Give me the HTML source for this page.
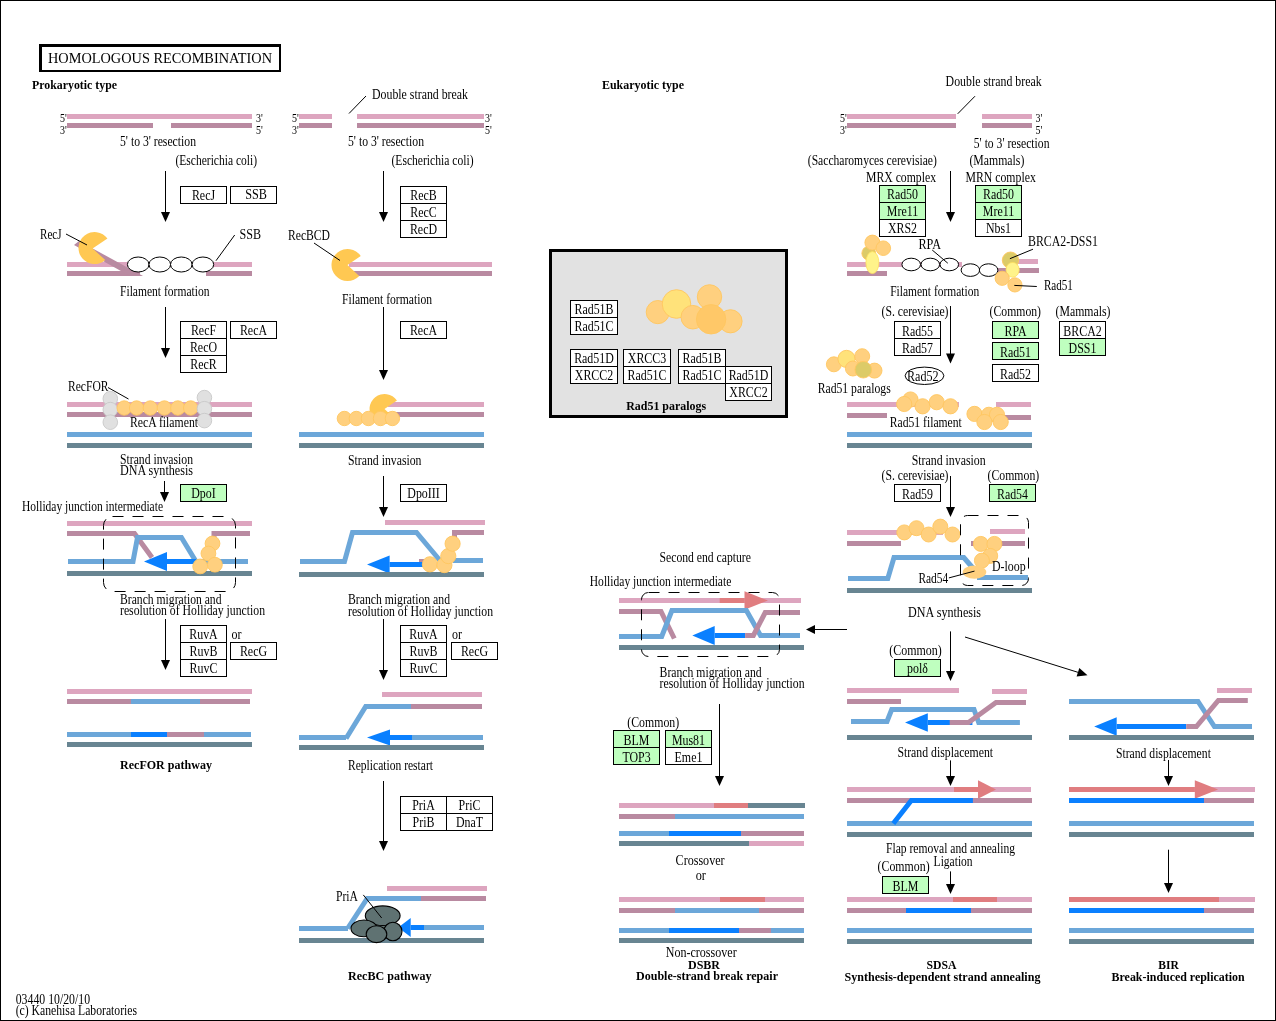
<!DOCTYPE html>
<html><head><meta charset="utf-8"><style>
html,body{margin:0;padding:0;background:#fff;}
svg{display:block;}
text{font-family:"Liberation Serif",serif;fill:#000;}
</style></head><body>
<svg style="will-change:transform" width="1276" height="1021" viewBox="0 0 1276 1021">
<rect x="0.5" y="0.5" width="1275" height="1020" fill="#fff" stroke="#000" stroke-width="1"/>
<rect x="39" y="44" width="242" height="28" fill="#000"/>
<rect x="42" y="47" width="237" height="23" fill="#fff"/>
<text x="48" y="63" font-size="14.5" textLength="224" lengthAdjust="spacingAndGlyphs">HOMOLOGOUS RECOMBINATION</text>
<text x="32" y="89" font-size="13" font-weight="bold" textLength="85" lengthAdjust="spacingAndGlyphs">Prokaryotic type</text>
<text x="602" y="89" font-size="13" font-weight="bold" textLength="82" lengthAdjust="spacingAndGlyphs">Eukaryotic type</text>
<text x="60" y="122" font-size="12" textLength="6.8" lengthAdjust="spacingAndGlyphs">5'</text>
<text x="60" y="134" font-size="12" textLength="6.8" lengthAdjust="spacingAndGlyphs">3'</text>
<rect x="67" y="114.0" width="185" height="5" fill="#DDA5BF"/>
<rect x="67" y="123.0" width="86" height="5" fill="#B98AA1"/>
<rect x="171" y="123.0" width="81" height="5" fill="#B98AA1"/>
<text x="256" y="122" font-size="12" textLength="6.8" lengthAdjust="spacingAndGlyphs">3'</text>
<text x="256" y="134" font-size="12" textLength="6.8" lengthAdjust="spacingAndGlyphs">5'</text>
<text x="120" y="146" font-size="14" textLength="76" lengthAdjust="spacingAndGlyphs">5' to 3' resection</text>
<text x="175.5" y="165" font-size="14" textLength="81.5" lengthAdjust="spacingAndGlyphs">(Escherichia coli)</text>
<line x1="165.5" y1="171" x2="165.5" y2="213" stroke="#000" stroke-width="1"/>
<polygon points="161.0,212 170.0,212 165.5,222" fill="#000"/>
<rect x="180.5" y="186.5" width="46" height="17" fill="#fff" stroke="#000" stroke-width="1"/>
<text x="203.5" y="200.1" font-size="14" text-anchor="middle" textLength="23.1" lengthAdjust="spacingAndGlyphs">RecJ</text>
<rect x="230.5" y="186.5" width="46" height="17" fill="#fff" stroke="#000" stroke-width="1"/>
<text x="245.3" y="199" font-size="14" textLength="21.7" lengthAdjust="spacingAndGlyphs">SSB</text>
<text x="40" y="239" font-size="14" textLength="21.5" lengthAdjust="spacingAndGlyphs">RecJ</text>
<text x="239.5" y="239" font-size="14" textLength="21.5" lengthAdjust="spacingAndGlyphs">SSB</text>
<rect x="67" y="262.0" width="185" height="5" fill="#DDA5BF"/>
<rect x="67" y="271.0" width="73" height="5" fill="#B98AA1"/>
<rect x="206" y="271.0" width="46" height="5" fill="#B98AA1"/>
<polygon points="74,245 79,241 143,276 130,276" fill="#B98AA1"/>
<path d="M92.6,248.5 L105.21,259.89 A16,16 0 1 1 107.44,238.60 Z" fill="#FFC852"/>
<line x1="66" y1="234" x2="87" y2="245" stroke="#000" stroke-width="1"/>
<line x1="216" y1="260.7" x2="234.7" y2="235" stroke="#000" stroke-width="1"/>
<ellipse cx="138.2" cy="264.5" rx="10.8" ry="7.5" fill="#fff" stroke="#000" stroke-width="1.0"/>
<ellipse cx="159.8" cy="264.5" rx="10.8" ry="7.5" fill="#fff" stroke="#000" stroke-width="1.0"/>
<ellipse cx="181.3" cy="264.5" rx="10.8" ry="7.5" fill="#fff" stroke="#000" stroke-width="1.0"/>
<ellipse cx="202.9" cy="264.5" rx="10.8" ry="7.5" fill="#fff" stroke="#000" stroke-width="1.0"/>
<text x="120" y="296" font-size="14" textLength="89.5" lengthAdjust="spacingAndGlyphs">Filament formation</text>
<line x1="165.5" y1="307" x2="165.5" y2="349" stroke="#000" stroke-width="1"/>
<polygon points="161.0,348 170.0,348 165.5,358" fill="#000"/>
<rect x="180.5" y="321.5" width="46" height="17" fill="#fff" stroke="#000" stroke-width="1"/>
<text x="203.5" y="335.1" font-size="14" text-anchor="middle" textLength="25.1" lengthAdjust="spacingAndGlyphs">RecF</text>
<rect x="180.5" y="338.5" width="46" height="17" fill="#fff" stroke="#000" stroke-width="1"/>
<text x="203.5" y="352.1" font-size="14" text-anchor="middle" textLength="27.1" lengthAdjust="spacingAndGlyphs">RecO</text>
<rect x="180.5" y="355.5" width="46" height="17" fill="#fff" stroke="#000" stroke-width="1"/>
<text x="203.5" y="369.1" font-size="14" text-anchor="middle" textLength="26.4" lengthAdjust="spacingAndGlyphs">RecR</text>
<rect x="230.5" y="321.5" width="46" height="17" fill="#fff" stroke="#000" stroke-width="1"/>
<text x="253.5" y="335.1" font-size="14" text-anchor="middle" textLength="27.1" lengthAdjust="spacingAndGlyphs">RecA</text>
<text x="68" y="391" font-size="14" textLength="40.5" lengthAdjust="spacingAndGlyphs">RecFOR</text>
<line x1="108" y1="387.5" x2="128.5" y2="399" stroke="#000" stroke-width="1"/>
<rect x="67" y="402.0" width="185" height="5" fill="#DDA5BF"/>
<rect x="67" y="412.0" width="185" height="5" fill="#B98AA1"/>
<circle cx="110.3" cy="398.7" r="7.3" fill="#E0E0E0" stroke="#C8C8C8" stroke-width="0.9"/>
<circle cx="110.3" cy="409.6" r="7.3" fill="#E0E0E0" stroke="#C8C8C8" stroke-width="0.9"/>
<circle cx="110.3" cy="422.2" r="7.3" fill="#E0E0E0" stroke="#C8C8C8" stroke-width="0.9"/>
<circle cx="124.2" cy="408" r="7.2" fill="#FFD07F" stroke="#FFC660" stroke-width="0.9"/>
<circle cx="136.6" cy="408" r="7.2" fill="#FFD07F" stroke="#FFC660" stroke-width="0.9"/>
<circle cx="150.3" cy="408" r="7.2" fill="#FFD07F" stroke="#FFC660" stroke-width="0.9"/>
<circle cx="164.4" cy="408" r="7.2" fill="#FFD07F" stroke="#FFC660" stroke-width="0.9"/>
<circle cx="177.8" cy="408" r="7.2" fill="#FFD07F" stroke="#FFC660" stroke-width="0.9"/>
<circle cx="190.7" cy="408" r="7.2" fill="#FFD07F" stroke="#FFC660" stroke-width="0.9"/>
<circle cx="204.4" cy="397.6" r="7.3" fill="#E0E0E0" stroke="#C8C8C8" stroke-width="0.9"/>
<circle cx="204.4" cy="408.7" r="7.3" fill="#E0E0E0" stroke="#C8C8C8" stroke-width="0.9"/>
<circle cx="204.4" cy="420.6" r="7.3" fill="#E0E0E0" stroke="#C8C8C8" stroke-width="0.9"/>
<text x="130" y="427" font-size="14" textLength="68" lengthAdjust="spacingAndGlyphs">RecA filament</text>
<rect x="67" y="432.0" width="185" height="5" fill="#6CA7D9"/>
<rect x="67" y="443.0" width="185" height="5" fill="#688592"/>
<text x="120" y="464" font-size="14" textLength="73" lengthAdjust="spacingAndGlyphs">Strand invasion</text>
<text x="120" y="475" font-size="14" textLength="73" lengthAdjust="spacingAndGlyphs">DNA synthesis</text>
<line x1="164.5" y1="481" x2="164.5" y2="493" stroke="#000" stroke-width="1"/>
<polygon points="160.0,492 169.0,492 164.5,502" fill="#000"/>
<rect x="180.5" y="484.5" width="46" height="17" fill="#BFFFBF" stroke="#000" stroke-width="1"/>
<text x="203.5" y="498.1" font-size="14" text-anchor="middle" textLength="24.5" lengthAdjust="spacingAndGlyphs">DpoI</text>
<text x="22" y="511" font-size="14" textLength="141" lengthAdjust="spacingAndGlyphs">Holliday junction intermediate</text>
<rect x="67" y="521.0" width="185" height="5" fill="#DDA5BF"/>
<polyline points="67,533.5 134.5,533.5 152,557.5" fill="none" stroke="#B98AA1" stroke-width="5" stroke-linejoin="miter" stroke-linecap="butt"/>
<polyline points="214,541.5 214,533.5 250,533.5" fill="none" stroke="#B98AA1" stroke-width="5" stroke-linejoin="miter" stroke-linecap="butt"/>
<polyline points="68,561.5 133,561.5 137.5,537.5 181.4,537.5 196,561.5 248,561.5" fill="none" stroke="#6CA7D9" stroke-width="5" stroke-linejoin="miter" stroke-linecap="butt"/>
<rect x="167" y="559.0" width="29" height="5" fill="#0A80FF"/>
<polygon points="144,561.5 167,552.0 167,571.0" fill="#0A80FF"/>
<rect x="67" y="571.0" width="185" height="5" fill="#688592"/>
<circle cx="212.5" cy="543.5" r="7.4" fill="#FFD07F" stroke="#FFC660" stroke-width="0.9"/>
<circle cx="208.4" cy="553.5" r="7.4" fill="#FFD07F" stroke="#FFC660" stroke-width="0.9"/>
<circle cx="200.2" cy="566.4" r="7.4" fill="#FFD07F" stroke="#FFC660" stroke-width="0.9"/>
<circle cx="214.9" cy="564.7" r="7.4" fill="#FFD07F" stroke="#FFC660" stroke-width="0.9"/>
<rect x="103.5" y="516.5" width="132" height="75" rx="9" ry="9" fill="none" stroke="#000" stroke-width="1" stroke-dasharray="11,9"/>
<text x="120" y="603.5" font-size="14" textLength="101.5" lengthAdjust="spacingAndGlyphs">Branch migration and</text>
<text x="120" y="615" font-size="14" textLength="145" lengthAdjust="spacingAndGlyphs">resolution of Holliday junction</text>
<line x1="165.5" y1="619" x2="165.5" y2="661" stroke="#000" stroke-width="1"/>
<polygon points="161.0,660 170.0,660 165.5,670" fill="#000"/>
<rect x="180.5" y="625.5" width="46" height="17" fill="#fff" stroke="#000" stroke-width="1"/>
<text x="203.5" y="639.1" font-size="14" text-anchor="middle" textLength="28.4" lengthAdjust="spacingAndGlyphs">RuvA</text>
<rect x="180.5" y="642.5" width="46" height="17" fill="#fff" stroke="#000" stroke-width="1"/>
<text x="203.5" y="656.1" font-size="14" text-anchor="middle" textLength="27.8" lengthAdjust="spacingAndGlyphs">RuvB</text>
<rect x="180.5" y="659.5" width="46" height="17" fill="#fff" stroke="#000" stroke-width="1"/>
<text x="203.5" y="673.1" font-size="14" text-anchor="middle" textLength="27.8" lengthAdjust="spacingAndGlyphs">RuvC</text>
<text x="231.5" y="638.5" font-size="14" textLength="10" lengthAdjust="spacingAndGlyphs">or</text>
<rect x="230.5" y="642.5" width="46" height="17" fill="#fff" stroke="#000" stroke-width="1"/>
<text x="253.5" y="656.1" font-size="14" text-anchor="middle" textLength="27.1" lengthAdjust="spacingAndGlyphs">RecG</text>
<rect x="67" y="689.0" width="185" height="5" fill="#DDA5BF"/>
<rect x="67" y="699.0" width="64" height="5" fill="#B98AA1"/>
<rect x="131" y="699.0" width="69" height="5" fill="#6CA7D9"/>
<rect x="200" y="699.0" width="50" height="5" fill="#B98AA1"/>
<rect x="67" y="732.0" width="64" height="5" fill="#6CA7D9"/>
<rect x="131" y="732.0" width="36" height="5" fill="#0A80FF"/>
<rect x="167" y="732.0" width="37" height="5" fill="#B98AA1"/>
<rect x="204" y="732.0" width="47" height="5" fill="#6CA7D9"/>
<rect x="67" y="742.0" width="185" height="5" fill="#688592"/>
<text x="120" y="769" font-size="13" font-weight="bold" textLength="92" lengthAdjust="spacingAndGlyphs">RecFOR pathway</text>
<text x="372" y="99" font-size="14" textLength="96" lengthAdjust="spacingAndGlyphs">Double strand break</text>
<line x1="366" y1="96" x2="349" y2="113.5" stroke="#000" stroke-width="1"/>
<text x="292" y="122" font-size="12" textLength="6.8" lengthAdjust="spacingAndGlyphs">5'</text>
<text x="292" y="134" font-size="12" textLength="6.8" lengthAdjust="spacingAndGlyphs">3'</text>
<rect x="299" y="114.0" width="33" height="5" fill="#DDA5BF"/>
<rect x="299" y="123.0" width="33" height="5" fill="#B98AA1"/>
<rect x="357" y="114.0" width="127" height="5" fill="#DDA5BF"/>
<rect x="357" y="123.0" width="127" height="5" fill="#B98AA1"/>
<text x="485" y="122" font-size="12" textLength="6.8" lengthAdjust="spacingAndGlyphs">3'</text>
<text x="485" y="134" font-size="12" textLength="6.8" lengthAdjust="spacingAndGlyphs">5'</text>
<text x="348" y="145.5" font-size="14" textLength="76" lengthAdjust="spacingAndGlyphs">5' to 3' resection</text>
<text x="391.5" y="165" font-size="14" textLength="82" lengthAdjust="spacingAndGlyphs">(Escherichia coli)</text>
<line x1="383.5" y1="171" x2="383.5" y2="213" stroke="#000" stroke-width="1"/>
<polygon points="379.0,212 388.0,212 383.5,222" fill="#000"/>
<rect x="400.5" y="186.5" width="46" height="17" fill="#fff" stroke="#000" stroke-width="1"/>
<text x="423.5" y="200.1" font-size="14" text-anchor="middle" textLength="26.4" lengthAdjust="spacingAndGlyphs">RecB</text>
<rect x="400.5" y="203.5" width="46" height="17" fill="#fff" stroke="#000" stroke-width="1"/>
<text x="423.5" y="217.1" font-size="14" text-anchor="middle" textLength="26.4" lengthAdjust="spacingAndGlyphs">RecC</text>
<rect x="400.5" y="220.5" width="46" height="17" fill="#fff" stroke="#000" stroke-width="1"/>
<text x="423.5" y="234.1" font-size="14" text-anchor="middle" textLength="27.1" lengthAdjust="spacingAndGlyphs">RecD</text>
<text x="288" y="240" font-size="14" textLength="42" lengthAdjust="spacingAndGlyphs">RecBCD</text>
<rect x="349" y="262.0" width="143" height="5" fill="#DDA5BF"/>
<rect x="353" y="271.0" width="139" height="5" fill="#B98AA1"/>
<path d="M347.5,265 L359.20,275.91 A16,16 0 1 1 360.76,256.05 Z" fill="#FFC852"/>
<line x1="314" y1="243" x2="340" y2="260.5" stroke="#000" stroke-width="1"/>
<text x="342" y="303.5" font-size="14" textLength="90" lengthAdjust="spacingAndGlyphs">Filament formation</text>
<line x1="383.5" y1="307" x2="383.5" y2="371" stroke="#000" stroke-width="1"/>
<polygon points="379.0,370 388.0,370 383.5,380" fill="#000"/>
<rect x="400.5" y="321.5" width="46" height="17" fill="#fff" stroke="#000" stroke-width="1"/>
<text x="423.5" y="335.1" font-size="14" text-anchor="middle" textLength="27.1" lengthAdjust="spacingAndGlyphs">RecA</text>
<rect x="388" y="402.0" width="96" height="5" fill="#DDA5BF"/>
<rect x="386" y="412.0" width="98" height="5" fill="#B98AA1"/>
<path d="M384.5,409 L395.47,419.23 A15,15 0 1 1 396.94,400.61 Z" fill="#FFC852"/>
<circle cx="344.4" cy="418.5" r="7.2" fill="#FFD07F" stroke="#FFC660" stroke-width="0.9"/>
<circle cx="356.3" cy="418.5" r="7.2" fill="#FFD07F" stroke="#FFC660" stroke-width="0.9"/>
<circle cx="368.4" cy="418.5" r="7.2" fill="#FFD07F" stroke="#FFC660" stroke-width="0.9"/>
<circle cx="380.5" cy="418.5" r="7.2" fill="#FFD07F" stroke="#FFC660" stroke-width="0.9"/>
<circle cx="392.4" cy="418.5" r="7.2" fill="#FFD07F" stroke="#FFC660" stroke-width="0.9"/>
<rect x="299" y="432.0" width="185" height="5" fill="#6CA7D9"/>
<rect x="299" y="443.0" width="185" height="5" fill="#688592"/>
<text x="348" y="464.5" font-size="14" textLength="73.5" lengthAdjust="spacingAndGlyphs">Strand invasion</text>
<line x1="383.5" y1="476" x2="383.5" y2="508" stroke="#000" stroke-width="1"/>
<polygon points="379.0,507 388.0,507 383.5,517" fill="#000"/>
<rect x="400.5" y="484.5" width="46" height="17" fill="#fff" stroke="#000" stroke-width="1"/>
<text x="423.5" y="498.1" font-size="14" text-anchor="middle" textLength="32.4" lengthAdjust="spacingAndGlyphs">DpoIII</text>
<rect x="385" y="520.0" width="100" height="5" fill="#DDA5BF"/>
<polyline points="300,561.5 344.5,561.5 352.5,532.5 416.5,532.5 440,560.5" fill="none" stroke="#6CA7D9" stroke-width="5" stroke-linejoin="miter" stroke-linecap="butt"/>
<polyline points="453,560.5 483,560.5" fill="none" stroke="#6CA7D9" stroke-width="5" stroke-linejoin="miter" stroke-linecap="butt"/>
<polyline points="454.5,538.5 454.5,532.5 484,532.5" fill="none" stroke="#B98AA1" stroke-width="5" stroke-linejoin="miter" stroke-linecap="butt"/>
<rect x="419" y="559.0" width="5" height="5" fill="#B98AA1"/>
<rect x="389.6" y="562.0" width="33.69999999999999" height="5" fill="#0A80FF"/>
<polygon points="367,564.5 389.6,555.5 389.6,573.5" fill="#0A80FF"/>
<rect x="299" y="572.0" width="185" height="5" fill="#688592"/>
<circle cx="429.9" cy="564.3" r="7.6" fill="#FFD07F" stroke="#FFC660" stroke-width="0.9"/>
<circle cx="444.4" cy="565.1" r="7.6" fill="#FFD07F" stroke="#FFC660" stroke-width="0.9"/>
<circle cx="448.3" cy="556.1" r="7.6" fill="#FFD07F" stroke="#FFC660" stroke-width="0.9"/>
<circle cx="452.6" cy="543.7" r="7.6" fill="#FFD07F" stroke="#FFC660" stroke-width="0.9"/>
<text x="348" y="604" font-size="14" textLength="102" lengthAdjust="spacingAndGlyphs">Branch migration and</text>
<text x="348" y="615.5" font-size="14" textLength="145" lengthAdjust="spacingAndGlyphs">resolution of Holliday junction</text>
<line x1="383.5" y1="619" x2="383.5" y2="671" stroke="#000" stroke-width="1"/>
<polygon points="379.0,670 388.0,670 383.5,680" fill="#000"/>
<rect x="400.5" y="625.5" width="46" height="17" fill="#fff" stroke="#000" stroke-width="1"/>
<text x="423.5" y="639.1" font-size="14" text-anchor="middle" textLength="28.4" lengthAdjust="spacingAndGlyphs">RuvA</text>
<rect x="400.5" y="642.5" width="46" height="17" fill="#fff" stroke="#000" stroke-width="1"/>
<text x="423.5" y="656.1" font-size="14" text-anchor="middle" textLength="27.8" lengthAdjust="spacingAndGlyphs">RuvB</text>
<rect x="400.5" y="659.5" width="46" height="17" fill="#fff" stroke="#000" stroke-width="1"/>
<text x="423.5" y="673.1" font-size="14" text-anchor="middle" textLength="27.8" lengthAdjust="spacingAndGlyphs">RuvC</text>
<text x="452" y="639" font-size="14" textLength="10" lengthAdjust="spacingAndGlyphs">or</text>
<rect x="451.5" y="642.5" width="46" height="17" fill="#fff" stroke="#000" stroke-width="1"/>
<text x="474.5" y="656.1" font-size="14" text-anchor="middle" textLength="27.1" lengthAdjust="spacingAndGlyphs">RecG</text>
<rect x="382" y="692.0" width="100" height="5" fill="#DDA5BF"/>
<polyline points="346,738.5 365.7,706.5 411,706.5" fill="none" stroke="#6CA7D9" stroke-width="5" stroke-linejoin="miter" stroke-linecap="butt"/>
<rect x="411" y="704.0" width="71" height="5" fill="#B98AA1"/>
<rect x="299" y="735.0" width="47" height="5" fill="#6CA7D9"/>
<rect x="390" y="735.0" width="22.19999999999999" height="5" fill="#0A80FF"/>
<polygon points="367,737.5 390,729.5 390,745.5" fill="#0A80FF"/>
<rect x="412" y="735.0" width="71" height="5" fill="#6CA7D9"/>
<rect x="299" y="745.0" width="185" height="5" fill="#688592"/>
<text x="348" y="769.5" font-size="14" textLength="85" lengthAdjust="spacingAndGlyphs">Replication restart</text>
<line x1="383.5" y1="781" x2="383.5" y2="842" stroke="#000" stroke-width="1"/>
<polygon points="379.0,841 388.0,841 383.5,851" fill="#000"/>
<rect x="400.5" y="796.5" width="92" height="34" fill="#fff" stroke="#000" stroke-width="1"/>
<line x1="446.5" y1="796" x2="446.5" y2="830" stroke="#000" stroke-width="1"/>
<line x1="400" y1="813.5" x2="492" y2="813.5" stroke="#000" stroke-width="1"/>
<text x="423.5" y="810.1" font-size="14" text-anchor="middle" textLength="22.5" lengthAdjust="spacingAndGlyphs">PriA</text>
<text x="469.5" y="810.1" font-size="14" text-anchor="middle" textLength="21.8" lengthAdjust="spacingAndGlyphs">PriC</text>
<text x="423.5" y="827.1" font-size="14" text-anchor="middle" textLength="21.8" lengthAdjust="spacingAndGlyphs">PriB</text>
<text x="469.5" y="827.1" font-size="14" text-anchor="middle" textLength="27.1" lengthAdjust="spacingAndGlyphs">DnaT</text>
<rect x="387" y="886.0" width="100" height="5" fill="#DDA5BF"/>
<polyline points="347.6,928.5 367.2,898.5 421.3,898.5" fill="none" stroke="#6CA7D9" stroke-width="5" stroke-linejoin="miter" stroke-linecap="butt"/>
<rect x="421" y="896.0" width="65" height="5" fill="#B98AA1"/>
<rect x="299" y="926.0" width="49" height="5" fill="#6CA7D9"/>
<rect x="299" y="938.0" width="185" height="5" fill="#688592"/>
<rect x="410.7" y="925.0" width="13.300000000000011" height="5" fill="#0A80FF"/>
<polygon points="398.2,927.5 410.7,918.1 410.7,936.9" fill="#0A80FF"/>
<rect x="424" y="925.0" width="60" height="5" fill="#6CA7D9"/>
<ellipse cx="383" cy="928" rx="10" ry="7" fill="#5F7272" stroke="none" stroke-width="0"/>
<ellipse cx="382.7" cy="915.7" rx="17.4" ry="9.8" fill="#5F7272" stroke="#000" stroke-width="1.1"/>
<ellipse cx="364" cy="928.4" rx="13" ry="8.4" fill="#5F7272" stroke="#000" stroke-width="1.1"/>
<ellipse cx="392.9" cy="931.5" rx="9.1" ry="9.2" fill="#5F7272" stroke="#000" stroke-width="1.1"/>
<ellipse cx="376.5" cy="934.2" rx="10.3" ry="8.4" fill="#5F7272" stroke="#000" stroke-width="1.1"/>
<line x1="363.3" y1="894.9" x2="381.7" y2="918" stroke="#000" stroke-width="1"/>
<text x="336" y="901" font-size="14" textLength="22" lengthAdjust="spacingAndGlyphs">PriA</text>
<text x="348" y="980" font-size="13" font-weight="bold" textLength="83.5" lengthAdjust="spacingAndGlyphs">RecBC pathway</text>
<text x="945.6" y="85.5" font-size="14" textLength="96" lengthAdjust="spacingAndGlyphs">Double strand break</text>
<line x1="975" y1="96.2" x2="957.7" y2="113.8" stroke="#000" stroke-width="1"/>
<text x="840" y="122" font-size="12" textLength="6.8" lengthAdjust="spacingAndGlyphs">5'</text>
<text x="840" y="134" font-size="12" textLength="6.8" lengthAdjust="spacingAndGlyphs">3'</text>
<rect x="847" y="114.0" width="109" height="5" fill="#DDA5BF"/>
<rect x="847" y="123.0" width="109" height="5" fill="#B98AA1"/>
<rect x="982" y="114.0" width="50" height="5" fill="#DDA5BF"/>
<rect x="982" y="123.0" width="50" height="5" fill="#B98AA1"/>
<text x="1035.5" y="122" font-size="12" textLength="6.8" lengthAdjust="spacingAndGlyphs">3'</text>
<text x="1035.5" y="134" font-size="12" textLength="6.8" lengthAdjust="spacingAndGlyphs">5'</text>
<text x="973.8" y="147.5" font-size="14" textLength="75.7" lengthAdjust="spacingAndGlyphs">5' to 3' resection</text>
<text x="807.8" y="165" font-size="14" textLength="129" lengthAdjust="spacingAndGlyphs">(Saccharomyces cerevisiae)</text>
<text x="969.4" y="165" font-size="14" textLength="55" lengthAdjust="spacingAndGlyphs">(Mammals)</text>
<text x="866" y="181.5" font-size="14" textLength="70" lengthAdjust="spacingAndGlyphs">MRX complex</text>
<text x="965.5" y="181.5" font-size="14" textLength="70.3" lengthAdjust="spacingAndGlyphs">MRN complex</text>
<line x1="950.5" y1="171" x2="950.5" y2="213" stroke="#000" stroke-width="1"/>
<polygon points="946.0,212 955.0,212 950.5,222" fill="#000"/>
<rect x="879.5" y="185.5" width="46" height="17" fill="#BFFFBF" stroke="#000" stroke-width="1"/>
<text x="902.5" y="199.1" font-size="14" text-anchor="middle" textLength="31.1" lengthAdjust="spacingAndGlyphs">Rad50</text>
<rect x="879.5" y="202.5" width="46" height="17" fill="#BFFFBF" stroke="#000" stroke-width="1"/>
<text x="902.5" y="216.1" font-size="14" text-anchor="middle" textLength="31.3" lengthAdjust="spacingAndGlyphs">Mre11</text>
<rect x="879.5" y="219.5" width="46" height="17" fill="#fff" stroke="#000" stroke-width="1"/>
<text x="902.5" y="233.1" font-size="14" text-anchor="middle" textLength="29.1" lengthAdjust="spacingAndGlyphs">XRS2</text>
<rect x="975.5" y="185.5" width="46" height="17" fill="#BFFFBF" stroke="#000" stroke-width="1"/>
<text x="998.5" y="199.1" font-size="14" text-anchor="middle" textLength="31.1" lengthAdjust="spacingAndGlyphs">Rad50</text>
<rect x="975.5" y="202.5" width="46" height="17" fill="#BFFFBF" stroke="#000" stroke-width="1"/>
<text x="998.5" y="216.1" font-size="14" text-anchor="middle" textLength="31.3" lengthAdjust="spacingAndGlyphs">Mre11</text>
<rect x="975.5" y="219.5" width="46" height="17" fill="#fff" stroke="#000" stroke-width="1"/>
<text x="998.5" y="233.1" font-size="14" text-anchor="middle" textLength="25.1" lengthAdjust="spacingAndGlyphs">Nbs1</text>
<rect x="847" y="262.0" width="115" height="5" fill="#DDA5BF"/>
<rect x="847" y="271.0" width="40" height="5" fill="#B98AA1"/>
<rect x="1018" y="259.0" width="20" height="5" fill="#DDA5BF"/>
<rect x="998" y="268.0" width="41" height="5" fill="#B98AA1"/>
<ellipse cx="911.2" cy="264.5" rx="9.3" ry="6.3" fill="#fff" stroke="#000" stroke-width="1.0"/>
<ellipse cx="930.3" cy="264.5" rx="9.3" ry="6.3" fill="#fff" stroke="#000" stroke-width="1.0"/>
<ellipse cx="949.3" cy="264.5" rx="9.3" ry="6.3" fill="#fff" stroke="#000" stroke-width="1.0"/>
<ellipse cx="970.4" cy="270.1" rx="9.3" ry="6.3" fill="#fff" stroke="#000" stroke-width="1.0"/>
<ellipse cx="988.6" cy="270.1" rx="9.3" ry="6.3" fill="#fff" stroke="#000" stroke-width="1.0"/>
<circle cx="868.8" cy="253.2" r="6.9" fill="#DCCB68" stroke="#FFC660" stroke-width="0.9"/>
<circle cx="872.4" cy="242.6" r="7.5" fill="#FFD07F" stroke="#FFC660" stroke-width="0.9"/>
<circle cx="883.3" cy="248.2" r="7.3" fill="#FFD07F" stroke="#FFC660" stroke-width="0.9"/>
<ellipse cx="872.4" cy="262.6" rx="6.5" ry="11" fill="#FFF38A" stroke="#FFE060" stroke-width="0.8"/>
<circle cx="1010.5" cy="260.2" r="8.2" fill="#DCCB68" stroke="#FFC660" stroke-width="0.9"/>
<ellipse cx="1012.6" cy="269.8" rx="6.6" ry="7.4" fill="#FFF38A" stroke="#FFE060" stroke-width="0.8"/>
<circle cx="1002.2" cy="278.3" r="7.1" fill="#FFD07F" stroke="#FFC660" stroke-width="0.9"/>
<circle cx="1014.9" cy="284.9" r="7.1" fill="#FFD07F" stroke="#FFC660" stroke-width="0.9"/>
<text x="918.4" y="248.8" font-size="14" textLength="22.6" lengthAdjust="spacingAndGlyphs">RPA</text>
<line x1="932.2" y1="250" x2="947.8" y2="263.2" stroke="#000" stroke-width="1"/>
<text x="1028" y="246" font-size="14" textLength="70" lengthAdjust="spacingAndGlyphs">BRCA2-DSS1</text>
<line x1="1033" y1="249.2" x2="1009.9" y2="258.7" stroke="#000" stroke-width="1"/>
<text x="1043.9" y="290" font-size="14" textLength="29" lengthAdjust="spacingAndGlyphs">Rad51</text>
<line x1="1036.8" y1="286.5" x2="1014.3" y2="285.4" stroke="#000" stroke-width="1"/>
<text x="890.2" y="295.5" font-size="14" textLength="89" lengthAdjust="spacingAndGlyphs">Filament formation</text>
<text x="881.5" y="316" font-size="14" textLength="67" lengthAdjust="spacingAndGlyphs">(S. cerevisiae)</text>
<line x1="950.5" y1="306" x2="950.5" y2="354.4" stroke="#000" stroke-width="1"/>
<polygon points="946.0,353.4 955.0,353.4 950.5,363.4" fill="#000"/>
<rect x="894.5" y="321.5" width="46" height="17" fill="#fff" stroke="#000" stroke-width="1"/>
<text x="917.5" y="335.6" font-size="14" text-anchor="middle" textLength="31.1" lengthAdjust="spacingAndGlyphs">Rad55</text>
<rect x="894.5" y="338.5" width="46" height="17" fill="#fff" stroke="#000" stroke-width="1"/>
<text x="917.5" y="352.6" font-size="14" text-anchor="middle" textLength="31.1" lengthAdjust="spacingAndGlyphs">Rad57</text>
<text x="989.6" y="316" font-size="14" textLength="51.4" lengthAdjust="spacingAndGlyphs">(Common)</text>
<rect x="992.5" y="321.5" width="46" height="17" fill="#BFFFBF" stroke="#000" stroke-width="1"/>
<text x="1015.5" y="335.6" font-size="14" text-anchor="middle" textLength="22.1" lengthAdjust="spacingAndGlyphs">RPA</text>
<rect x="992.5" y="342.5" width="46" height="17" fill="#BFFFBF" stroke="#000" stroke-width="1"/>
<text x="1015.5" y="356.6" font-size="14" text-anchor="middle" textLength="31.1" lengthAdjust="spacingAndGlyphs">Rad51</text>
<rect x="992.5" y="364.5" width="46" height="17" fill="#fff" stroke="#000" stroke-width="1"/>
<text x="1015.5" y="378.6" font-size="14" text-anchor="middle" textLength="31.1" lengthAdjust="spacingAndGlyphs">Rad52</text>
<text x="1055.5" y="316" font-size="14" textLength="55" lengthAdjust="spacingAndGlyphs">(Mammals)</text>
<rect x="1059.5" y="321.5" width="46" height="17" fill="#fff" stroke="#000" stroke-width="1"/>
<text x="1082.5" y="335.6" font-size="14" text-anchor="middle" textLength="38.4" lengthAdjust="spacingAndGlyphs">BRCA2</text>
<rect x="1059.5" y="338.5" width="46" height="17" fill="#BFFFBF" stroke="#000" stroke-width="1"/>
<text x="1082.5" y="352.6" font-size="14" text-anchor="middle" textLength="27.8" lengthAdjust="spacingAndGlyphs">DSS1</text>
<ellipse cx="924.5" cy="375.8" rx="19.4" ry="8.7" fill="#fff" stroke="#000" stroke-width="1"/>
<text x="907" y="380.5" font-size="14" textLength="31.6" lengthAdjust="spacingAndGlyphs">Rad52</text>
<circle cx="833.9" cy="364.3" r="7.5" fill="#FFD07F" stroke="#FFC660" stroke-width="0.9"/>
<circle cx="846.5" cy="358.9" r="8.6" fill="#FFE27A" stroke="#FFC660" stroke-width="0.9"/>
<circle cx="862.2" cy="356.2" r="7.5" fill="#FFD07F" stroke="#FFC660" stroke-width="0.9"/>
<circle cx="852.9" cy="368.5" r="7.5" fill="#FFD07F" stroke="#FFC660" stroke-width="0.9"/>
<circle cx="874.5" cy="370.6" r="7.5" fill="#FFD07F" stroke="#FFC660" stroke-width="0.9"/>
<circle cx="863.3" cy="369.7" r="8.3" fill="#DCCB68" stroke="#FFC660" stroke-width="0.9"/>
<text x="817.7" y="393.2" font-size="14" textLength="73" lengthAdjust="spacingAndGlyphs">Rad51 paralogs</text>
<rect x="847" y="402.0" width="112" height="5" fill="#DDA5BF"/>
<rect x="996" y="402.0" width="35" height="5" fill="#DDA5BF"/>
<rect x="847" y="413.0" width="40" height="5" fill="#B98AA1"/>
<rect x="1004" y="415.0" width="27" height="5" fill="#B98AA1"/>
<circle cx="910.5" cy="399.5" r="7.6" fill="#FFD07F" stroke="#FFC660" stroke-width="0.9"/>
<circle cx="904.2" cy="404" r="7.6" fill="#FFD07F" stroke="#FFC660" stroke-width="0.9"/>
<circle cx="922.6" cy="406.3" r="7.6" fill="#FFD07F" stroke="#FFC660" stroke-width="0.9"/>
<circle cx="936.7" cy="402.2" r="7.6" fill="#FFD07F" stroke="#FFC660" stroke-width="0.9"/>
<circle cx="950.5" cy="406.3" r="7.6" fill="#FFD07F" stroke="#FFC660" stroke-width="0.9"/>
<circle cx="974.5" cy="413.9" r="7.6" fill="#FFD07F" stroke="#FFC660" stroke-width="0.9"/>
<circle cx="988.9" cy="414.8" r="7.6" fill="#FFD07F" stroke="#FFC660" stroke-width="0.9"/>
<circle cx="997" cy="414.8" r="7.6" fill="#FFD07F" stroke="#FFC660" stroke-width="0.9"/>
<circle cx="984.4" cy="422" r="7.6" fill="#FFD07F" stroke="#FFC660" stroke-width="0.9"/>
<circle cx="1000.7" cy="422" r="7.6" fill="#FFD07F" stroke="#FFC660" stroke-width="0.9"/>
<text x="889.8" y="427" font-size="14" textLength="72" lengthAdjust="spacingAndGlyphs">Rad51 filament</text>
<rect x="847" y="432.0" width="185" height="5" fill="#6CA7D9"/>
<rect x="847" y="443.0" width="185" height="5" fill="#688592"/>
<text x="911.7" y="465" font-size="14" textLength="74" lengthAdjust="spacingAndGlyphs">Strand invasion</text>
<text x="881.5" y="480" font-size="14" textLength="67" lengthAdjust="spacingAndGlyphs">(S. cerevisiae)</text>
<line x1="950.5" y1="476" x2="950.5" y2="508" stroke="#000" stroke-width="1"/>
<polygon points="946.0,507 955.0,507 950.5,517" fill="#000"/>
<rect x="894.5" y="484.5" width="46" height="17" fill="#fff" stroke="#000" stroke-width="1"/>
<text x="917.5" y="498.6" font-size="14" text-anchor="middle" textLength="31.1" lengthAdjust="spacingAndGlyphs">Rad59</text>
<text x="987.5" y="480" font-size="14" textLength="51.7" lengthAdjust="spacingAndGlyphs">(Common)</text>
<rect x="989.5" y="484.5" width="46" height="17" fill="#BFFFBF" stroke="#000" stroke-width="1"/>
<text x="1012.5" y="498.6" font-size="14" text-anchor="middle" textLength="31.1" lengthAdjust="spacingAndGlyphs">Rad54</text>
<rect x="847" y="530.0" width="96" height="5" fill="#DDA5BF"/>
<rect x="847" y="541.0" width="54" height="5" fill="#B98AA1"/>
<circle cx="904.3" cy="532.4" r="7.5" fill="#FFD07F" stroke="#FFC660" stroke-width="0.9"/>
<circle cx="916.5" cy="528.2" r="7.5" fill="#FFD07F" stroke="#FFC660" stroke-width="0.9"/>
<circle cx="928.6" cy="534.5" r="7.5" fill="#FFD07F" stroke="#FFC660" stroke-width="0.9"/>
<circle cx="940.3" cy="526.6" r="7.5" fill="#FFD07F" stroke="#FFC660" stroke-width="0.9"/>
<circle cx="952.5" cy="534.5" r="7.5" fill="#FFD07F" stroke="#FFC660" stroke-width="0.9"/>
<rect x="990" y="529.0" width="35" height="5" fill="#DDA5BF"/>
<rect x="971" y="541.0" width="54" height="5" fill="#B98AA1"/>
<polyline points="848,578.5 887.8,578.5 894,557.5 963.8,557.5 975,570.5" fill="none" stroke="#6CA7D9" stroke-width="5" stroke-linejoin="miter" stroke-linecap="butt"/>
<rect x="977" y="575.0" width="51" height="5" fill="#6CA7D9"/>
<circle cx="980.8" cy="543.9" r="7.5" fill="#FFD07F" stroke="#FFC660" stroke-width="0.9"/>
<circle cx="994.4" cy="543.9" r="7.5" fill="#FFD07F" stroke="#FFC660" stroke-width="0.9"/>
<circle cx="990.2" cy="555.9" r="7.5" fill="#FFD07F" stroke="#FFC660" stroke-width="0.9"/>
<circle cx="981.9" cy="560.6" r="7.5" fill="#FFD07F" stroke="#FFC660" stroke-width="0.9"/>
<ellipse cx="974.5" cy="572.1" rx="11.8" ry="6.6" fill="#FFD07F" stroke="none" stroke-width="0"/>
<rect x="960.5" y="515.5" width="68" height="70" rx="7" ry="7" fill="none" stroke="#000" stroke-width="1" stroke-dasharray="11,9"/>
<text x="992" y="571" font-size="14" textLength="33.7" lengthAdjust="spacingAndGlyphs">D-loop</text>
<text x="918.4" y="582.6" font-size="14" textLength="29.8" lengthAdjust="spacingAndGlyphs">Rad54</text>
<line x1="948.9" y1="577.9" x2="974.5" y2="571.1" stroke="#000" stroke-width="1"/>
<rect x="847" y="588.0" width="185" height="5" fill="#688592"/>
<text x="908.1" y="616.5" font-size="14" textLength="73" lengthAdjust="spacingAndGlyphs">DNA synthesis</text>
<line x1="847" y1="629.5" x2="814" y2="629.5" stroke="#000" stroke-width="1"/>
<polygon points="806,629.5 815,625 815,634" fill="#000"/>
<line x1="950.5" y1="631.4" x2="950.5" y2="672" stroke="#000" stroke-width="1"/>
<polygon points="946.0,671 955.0,671 950.5,681" fill="#000"/>
<line x1="965" y1="637" x2="1077.9556162199315" y2="672.3159191936602" stroke="#000" stroke-width="1"/>
<polygon points="1087.5,675.3 1076.61,676.61 1079.30,668.02" fill="#000"/>
<text x="889.2" y="655" font-size="14" textLength="52.5" lengthAdjust="spacingAndGlyphs">(Common)</text>
<rect x="894.5" y="659.5" width="46" height="17" fill="#BFFFBF" stroke="#000" stroke-width="1"/>
<text x="917.5" y="673.1" font-size="14" text-anchor="middle" textLength="20.8" lengthAdjust="spacingAndGlyphs">polδ</text>
<rect x="847" y="688.0" width="112" height="5" fill="#DDA5BF"/>
<rect x="992" y="689.0" width="35" height="5" fill="#DDA5BF"/>
<rect x="847" y="699.0" width="54" height="5" fill="#B98AA1"/>
<polyline points="851,721.5 887,721.5 891.7,709.5 974,709.5 978.7,722.5 1019.9,722.5" fill="none" stroke="#6CA7D9" stroke-width="5" stroke-linejoin="miter" stroke-linecap="butt"/>
<rect x="927.8" y="720.0" width="44.60000000000002" height="5" fill="#0A80FF"/>
<polygon points="905,722.5 927.8,713.3 927.8,731.7" fill="#0A80FF"/>
<polyline points="949.7,722.5 968.5,722.5 996,702.5 1026,702.5" fill="none" stroke="#B98AA1" stroke-width="5" stroke-linejoin="miter" stroke-linecap="butt"/>
<rect x="847" y="735.0" width="185" height="5" fill="#688592"/>
<text x="897.4" y="757" font-size="14" textLength="95.7" lengthAdjust="spacingAndGlyphs">Strand displacement</text>
<line x1="950.5" y1="760.4" x2="950.5" y2="777" stroke="#000" stroke-width="1"/>
<polygon points="946.0,776 955.0,776 950.5,786" fill="#000"/>
<rect x="847" y="787.0" width="184" height="5" fill="#DDA5BF"/>
<rect x="954" y="787.0" width="24" height="5" fill="#E07D80"/>
<polygon points="996,789.5 978,780.3 978,798.7" fill="#E07D80"/>
<rect x="847" y="798.0" width="185" height="5" fill="#B98AA1"/>
<rect x="847" y="821.0" width="185" height="5" fill="#6CA7D9"/>
<polyline points="893.3,823.5 911.3,800.5 972.9,800.5" fill="none" stroke="#0A80FF" stroke-width="5" stroke-linejoin="miter" stroke-linecap="butt"/>
<rect x="847" y="832.0" width="185" height="5" fill="#688592"/>
<text x="886" y="853" font-size="14" textLength="129" lengthAdjust="spacingAndGlyphs">Flap removal and annealing</text>
<text x="933.6" y="866" font-size="14" textLength="39" lengthAdjust="spacingAndGlyphs">Ligation</text>
<text x="877.6" y="871" font-size="14" textLength="52" lengthAdjust="spacingAndGlyphs">(Common)</text>
<rect x="882.5" y="876.5" width="46" height="17" fill="#BFFFBF" stroke="#000" stroke-width="1"/>
<text x="905.5" y="890.6" font-size="14" text-anchor="middle" textLength="25.8" lengthAdjust="spacingAndGlyphs">BLM</text>
<line x1="950.5" y1="871.4" x2="950.5" y2="885" stroke="#000" stroke-width="1"/>
<polygon points="946.0,884 955.0,884 950.5,894" fill="#000"/>
<rect x="847" y="897.0" width="106" height="5" fill="#DDA5BF"/>
<rect x="953" y="897.0" width="44" height="5" fill="#E07D80"/>
<rect x="997" y="897.0" width="35" height="5" fill="#DDA5BF"/>
<rect x="847" y="908.0" width="59" height="5" fill="#B98AA1"/>
<rect x="906" y="908.0" width="65" height="5" fill="#0A80FF"/>
<rect x="971" y="908.0" width="61" height="5" fill="#B98AA1"/>
<rect x="847" y="928.0" width="185" height="5" fill="#6CA7D9"/>
<rect x="847" y="939.0" width="185" height="5" fill="#688592"/>
<text x="926.5" y="969" font-size="13" font-weight="bold" textLength="30" lengthAdjust="spacingAndGlyphs">SDSA</text>
<text x="844.5" y="980.5" font-size="13" font-weight="bold" textLength="196" lengthAdjust="spacingAndGlyphs">Synthesis-dependent strand annealing</text>
<rect x="1217" y="688.0" width="35" height="5" fill="#DDA5BF"/>
<polyline points="1069,701.5 1198,701.5 1214.4,726.5 1252,726.5" fill="none" stroke="#6CA7D9" stroke-width="5" stroke-linejoin="miter" stroke-linecap="butt"/>
<rect x="1116.7" y="724.0" width="69.5" height="5" fill="#0A80FF"/>
<polygon points="1094.2,726.5 1116.7,717.3 1116.7,735.7" fill="#0A80FF"/>
<polyline points="1186.2,726.5 1196.4,726.5 1218.3,700.5 1247.8,700.5" fill="none" stroke="#B98AA1" stroke-width="5" stroke-linejoin="miter" stroke-linecap="butt"/>
<rect x="1069" y="735.0" width="185" height="5" fill="#688592"/>
<text x="1115.9" y="758" font-size="14" textLength="95" lengthAdjust="spacingAndGlyphs">Strand displacement</text>
<line x1="1168.5" y1="760" x2="1168.5" y2="777" stroke="#000" stroke-width="1"/>
<polygon points="1164.0,776 1173.0,776 1168.5,786" fill="#000"/>
<rect x="1069" y="787.0" width="149" height="5" fill="#DDA5BF"/>
<rect x="1069" y="787.0" width="125.79999999999995" height="5" fill="#E07D80"/>
<polygon points="1218.1,789.5 1194.8,780.3 1194.8,798.7" fill="#E07D80"/>
<rect x="1218" y="787.0" width="37" height="5" fill="#DDA5BF"/>
<rect x="1069" y="798.0" width="135" height="5" fill="#0A80FF"/>
<rect x="1204" y="798.0" width="50" height="5" fill="#B98AA1"/>
<rect x="1069" y="821.0" width="185" height="5" fill="#6CA7D9"/>
<rect x="1069" y="832.0" width="185" height="5" fill="#688592"/>
<line x1="1168.5" y1="849.7" x2="1168.5" y2="884" stroke="#000" stroke-width="1"/>
<polygon points="1164.0,883 1173.0,883 1168.5,893" fill="#000"/>
<rect x="1069" y="897.0" width="150" height="5" fill="#E07D80"/>
<rect x="1219" y="897.0" width="36" height="5" fill="#DDA5BF"/>
<rect x="1069" y="908.0" width="135" height="5" fill="#0A80FF"/>
<rect x="1204" y="908.0" width="50" height="5" fill="#B98AA1"/>
<rect x="1069" y="928.0" width="185" height="5" fill="#6CA7D9"/>
<rect x="1069" y="939.0" width="185" height="5" fill="#688592"/>
<text x="1158.2" y="969" font-size="13" font-weight="bold" textLength="20.6" lengthAdjust="spacingAndGlyphs">BIR</text>
<text x="1111.6" y="980.5" font-size="13" font-weight="bold" textLength="133" lengthAdjust="spacingAndGlyphs">Break-induced replication</text>
<text x="659.6" y="562" font-size="14" textLength="91.3" lengthAdjust="spacingAndGlyphs">Second end capture</text>
<text x="589.8" y="586" font-size="14" textLength="141.5" lengthAdjust="spacingAndGlyphs">Holliday junction intermediate</text>
<rect x="619" y="598.0" width="182" height="5" fill="#DDA5BF"/>
<rect x="719.7" y="598.0" width="24.799999999999955" height="5" fill="#E07D80"/>
<polygon points="768,600.5 744.5,591.3 744.5,609.7" fill="#E07D80"/>
<polyline points="619,611.5 661,611.5 674.3,638.5" fill="none" stroke="#B98AA1" stroke-width="5" stroke-linejoin="miter" stroke-linecap="butt"/>
<polyline points="619,636.5 661.7,636.5 671.9,610.5 746.4,610.5 760.5,635.5 800,635.5" fill="none" stroke="#6CA7D9" stroke-width="5" stroke-linejoin="miter" stroke-linecap="butt"/>
<rect x="714.7" y="633.0" width="30.399999999999977" height="5" fill="#0A80FF"/>
<polygon points="692.3,635.5 714.7,626.1 714.7,644.9" fill="#0A80FF"/>
<polyline points="745.1,635.5 753.4,635.5 765.2,612.5 800,612.5" fill="none" stroke="#B98AA1" stroke-width="5" stroke-linejoin="miter" stroke-linecap="butt"/>
<rect x="619" y="645.0" width="185" height="5" fill="#688592"/>
<rect x="641.5" y="592.5" width="138" height="64" rx="7" ry="7" fill="none" stroke="#000" stroke-width="1" stroke-dasharray="11,9"/>
<text x="659.6" y="676.5" font-size="14" textLength="102" lengthAdjust="spacingAndGlyphs">Branch migration and</text>
<text x="659.6" y="688" font-size="14" textLength="145" lengthAdjust="spacingAndGlyphs">resolution of Holliday junction</text>
<line x1="719.5" y1="704" x2="719.5" y2="777" stroke="#000" stroke-width="1"/>
<polygon points="715.0,776 724.0,776 719.5,786" fill="#000"/>
<text x="627.2" y="727" font-size="14" textLength="52" lengthAdjust="spacingAndGlyphs">(Common)</text>
<rect x="613.5" y="730.5" width="46" height="17" fill="#BFFFBF" stroke="#000" stroke-width="1"/>
<text x="636.5" y="744.6" font-size="14" text-anchor="middle" textLength="25.8" lengthAdjust="spacingAndGlyphs">BLM</text>
<rect x="613.5" y="747.5" width="46" height="17" fill="#BFFFBF" stroke="#000" stroke-width="1"/>
<text x="636.5" y="761.6" font-size="14" text-anchor="middle" textLength="28.2" lengthAdjust="spacingAndGlyphs">TOP3</text>
<rect x="665.5" y="730.5" width="46" height="17" fill="#BFFFBF" stroke="#000" stroke-width="1"/>
<text x="688.5" y="744.6" font-size="14" text-anchor="middle" textLength="33.1" lengthAdjust="spacingAndGlyphs">Mus81</text>
<rect x="665.5" y="747.5" width="46" height="17" fill="#fff" stroke="#000" stroke-width="1"/>
<text x="688.5" y="761.6" font-size="14" text-anchor="middle" textLength="27.8" lengthAdjust="spacingAndGlyphs">Eme1</text>
<rect x="619" y="803.0" width="95" height="5" fill="#DDA5BF"/>
<rect x="714" y="803.0" width="34" height="5" fill="#E07D80"/>
<rect x="748" y="803.0" width="57" height="5" fill="#688592"/>
<rect x="619" y="814.0" width="56" height="5" fill="#B98AA1"/>
<rect x="675" y="814.0" width="129" height="5" fill="#6CA7D9"/>
<rect x="619" y="831.0" width="50" height="5" fill="#6CA7D9"/>
<rect x="669" y="831.0" width="72" height="5" fill="#0A80FF"/>
<rect x="741" y="831.0" width="63" height="5" fill="#B98AA1"/>
<rect x="619" y="841.0" width="130" height="5" fill="#688592"/>
<rect x="749" y="841.0" width="55" height="5" fill="#DDA5BF"/>
<text x="675.6" y="864.5" font-size="14" textLength="49" lengthAdjust="spacingAndGlyphs">Crossover</text>
<text x="695.7" y="880" font-size="14" textLength="10.2" lengthAdjust="spacingAndGlyphs">or</text>
<rect x="619" y="897.0" width="101" height="5" fill="#DDA5BF"/>
<rect x="720" y="897.0" width="45" height="5" fill="#E07D80"/>
<rect x="765" y="897.0" width="39" height="5" fill="#DDA5BF"/>
<rect x="619" y="908.0" width="56" height="5" fill="#B98AA1"/>
<rect x="675" y="908.0" width="84" height="5" fill="#6CA7D9"/>
<rect x="759" y="908.0" width="45" height="5" fill="#B98AA1"/>
<rect x="619" y="928.0" width="50" height="5" fill="#6CA7D9"/>
<rect x="669" y="928.0" width="70" height="5" fill="#0A80FF"/>
<rect x="739" y="928.0" width="32" height="5" fill="#B98AA1"/>
<rect x="771" y="928.0" width="33" height="5" fill="#6CA7D9"/>
<rect x="619" y="938.0" width="185" height="5" fill="#688592"/>
<text x="665.7" y="956.5" font-size="14" textLength="71" lengthAdjust="spacingAndGlyphs">Non-crossover</text>
<text x="688" y="969" font-size="13" font-weight="bold" textLength="32" lengthAdjust="spacingAndGlyphs">DSBR</text>
<text x="636" y="980" font-size="13" font-weight="bold" textLength="142" lengthAdjust="spacingAndGlyphs">Double-strand break repair</text>
<rect x="549" y="249" width="239" height="169" fill="#000"/>
<rect x="552" y="252" width="233" height="163" fill="#E2E2E2"/>
<rect x="570.5" y="300.5" width="47" height="17" fill="#fff" stroke="#000" stroke-width="1"/>
<text x="594.0" y="314.1" font-size="14" text-anchor="middle" textLength="39.0" lengthAdjust="spacingAndGlyphs">Rad51B</text>
<rect x="570.5" y="317.5" width="47" height="17" fill="#fff" stroke="#000" stroke-width="1"/>
<text x="594.0" y="331.1" font-size="14" text-anchor="middle" textLength="39.0" lengthAdjust="spacingAndGlyphs">Rad51C</text>
<rect x="570.5" y="349.5" width="47" height="17" fill="#fff" stroke="#000" stroke-width="1"/>
<text x="594.0" y="363.1" font-size="14" text-anchor="middle" textLength="39.7" lengthAdjust="spacingAndGlyphs">Rad51D</text>
<rect x="570.5" y="366.5" width="47" height="17" fill="#fff" stroke="#000" stroke-width="1"/>
<text x="594.0" y="380.1" font-size="14" text-anchor="middle" textLength="38.4" lengthAdjust="spacingAndGlyphs">XRCC2</text>
<rect x="623.5" y="349.5" width="47" height="17" fill="#fff" stroke="#000" stroke-width="1"/>
<text x="647.0" y="363.1" font-size="14" text-anchor="middle" textLength="38.4" lengthAdjust="spacingAndGlyphs">XRCC3</text>
<rect x="623.5" y="366.5" width="47" height="17" fill="#fff" stroke="#000" stroke-width="1"/>
<text x="647.0" y="380.1" font-size="14" text-anchor="middle" textLength="39.0" lengthAdjust="spacingAndGlyphs">Rad51C</text>
<rect x="678.5" y="349.5" width="47" height="17" fill="#fff" stroke="#000" stroke-width="1"/>
<text x="702.0" y="363.1" font-size="14" text-anchor="middle" textLength="39.0" lengthAdjust="spacingAndGlyphs">Rad51B</text>
<rect x="678.5" y="366.5" width="47" height="17" fill="#fff" stroke="#000" stroke-width="1"/>
<text x="702.0" y="380.1" font-size="14" text-anchor="middle" textLength="39.0" lengthAdjust="spacingAndGlyphs">Rad51C</text>
<rect x="725.5" y="366.5" width="46" height="17" fill="#fff" stroke="#000" stroke-width="1"/>
<text x="748.5" y="380.1" font-size="14" text-anchor="middle" textLength="39.7" lengthAdjust="spacingAndGlyphs">Rad51D</text>
<rect x="725.5" y="383.5" width="46" height="17" fill="#fff" stroke="#000" stroke-width="1"/>
<text x="748.5" y="397.1" font-size="14" text-anchor="middle" textLength="38.4" lengthAdjust="spacingAndGlyphs">XRCC2</text>
<circle cx="657.8" cy="312.1" r="11.6" fill="#FFD07F" stroke="#FFC660" stroke-width="0.9"/>
<circle cx="676.5" cy="304" r="14.3" fill="#FFE27A" stroke="#FFC660" stroke-width="0.9"/>
<circle cx="709.5" cy="296.9" r="12.2" fill="#FFD07F" stroke="#FFC660" stroke-width="0.9"/>
<circle cx="692.8" cy="317.2" r="11.8" fill="#FFD07F" stroke="#FFC660" stroke-width="0.9"/>
<circle cx="730.5" cy="321.3" r="11.6" fill="#FFD07F" stroke="#FFC660" stroke-width="0.9"/>
<circle cx="711.1" cy="319.3" r="14.7" fill="#FFC868" stroke="#FFC660" stroke-width="0.9"/>
<text x="626.2" y="409.5" font-size="13" font-weight="bold" textLength="80" lengthAdjust="spacingAndGlyphs">Rad51 paralogs</text>
<text x="15.7" y="1003.5" font-size="14" textLength="74.4" lengthAdjust="spacingAndGlyphs">03440 10/20/10</text>
<text x="15.7" y="1015" font-size="14" textLength="121.4" lengthAdjust="spacingAndGlyphs">(c) Kanehisa Laboratories</text>
</svg></body></html>
